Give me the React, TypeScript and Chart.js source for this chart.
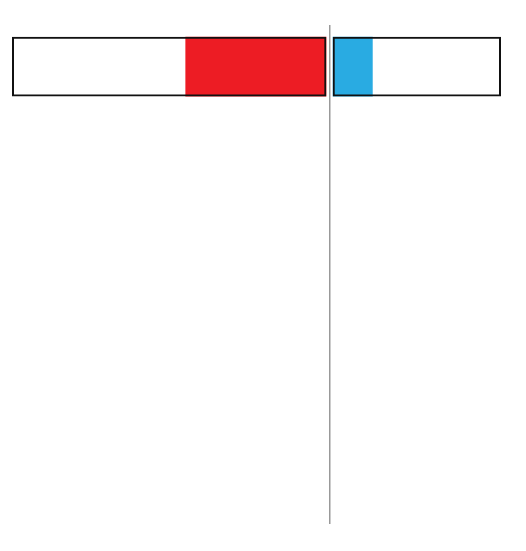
import React, { useEffect, useRef } from "react";
import { Chart, registerables } from "chart.js";

Chart.register(...registerables);

const categories = ["", "", "", "", "", ""];
const leftTotal = [[-100, -1], null, null, null, null, null];
const leftValue = [[-45.4, -1], null, null, null, null, null];
const rightTotal = [[1, 54], null, null, null, null, null];
const rightValue = [[1, 13.6], null, null, null, null, null];
const xMin = -100;
const xMax = 54;

export default function App() {
  const ref = useRef<HTMLCanvasElement | null>(null);
  useEffect(() => {
    if (!ref.current) return;
    const chart = new Chart(ref.current, {
      type: "bar",
      data: {
        labels: categories,
        datasets: [
          { data: leftValue as any, backgroundColor: "#ED1C24", borderWidth: 0, grouped: false, order: 2 },
          { data: rightValue as any, backgroundColor: "#29ABE2", borderWidth: 0, grouped: false, order: 2 },
          { data: leftTotal as any, backgroundColor: "rgba(0,0,0,0)", borderColor: "#111", borderWidth: 2, borderSkipped: false, grouped: false, order: 1 },
          { data: rightTotal as any, backgroundColor: "rgba(0,0,0,0)", borderColor: "#111", borderWidth: 2, borderSkipped: false, grouped: false, order: 1 },
        ],
      },
      options: {
        indexAxis: "y",
        animation: false,
        responsive: false,
        layout: { padding: { top: 17, bottom: 19, left: 4, right: 17 } },
        plugins: { legend: { display: false }, tooltip: { enabled: false } },
        scales: {
          x: {
            min: xMin,
            max: xMax,
            afterBuildTicks: (s: any) => { s.ticks = [{ value: 0 }]; },
            ticks: { display: false },
            border: { display: false },
            grid: { color: "#999", lineWidth: 1.5, drawTicks: false },
          },
          y: { display: false },
        },
      },
    });
    return () => chart.destroy();
  }, []);
  return <canvas ref={ref} width={510} height={535} style={{ display: "block" }} />;
}
